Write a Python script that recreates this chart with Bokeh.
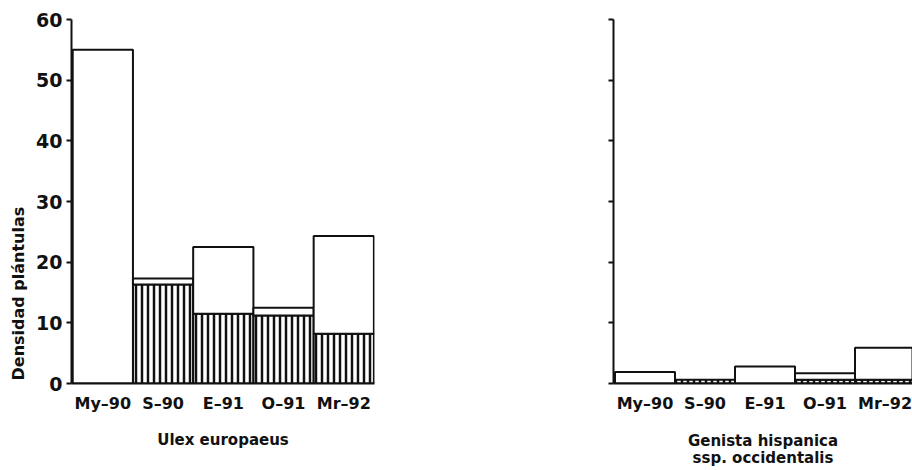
from bokeh.plotting import figure
from bokeh.models import FixedTicker, Range1d, Title
from bokeh.layouts import row
from bokeh.embed import file_html
from bokeh.resources import INLINE

# ---- data ----
months = ["My–90", "S–90", "E–91", "O–91", "Mr–92"]
ulex_total = [55.0, 17.3, 22.5, 12.5, 24.3]
ulex_hatched = [0.0, 16.3, 11.5, 11.2, 8.2]
genista_total = [1.9, 0.6, 2.8, 1.7, 5.9]
genista_hatched = [0.0, 0.6, 0.0, 0.6, 0.6]
y_ticks = [0, 10, 20, 30, 40, 50, 60]
y_label = "Densidad plántulas"
title_left = "Ulex europaeus"
title_right = ["Genista hispanica", "ssp. occidentalis"]

INK = "#111111"
FONT = "DejaVu Sans"


def make_panel(total, hatched, width, border_left, border_right, x_start, x_end,
               show_ylabels, xlabel, label_standoff):
    p = figure(width=width, height=470, output_backend="svg", toolbar_location=None,
               x_range=Range1d(x_start, x_end), y_range=Range1d(0, 60),
               min_border_left=border_left, min_border_right=border_right,
               min_border_top=19, min_border_bottom=87)
    p.outline_line_color = None
    p.xgrid.visible = False
    p.ygrid.visible = False
    p.background_fill_color = "white"

    xs = [i + 0.5 for i in range(len(months))]
    # hatched (lower) part
    hx = [x for x, h in zip(xs, hatched) if h > 0]
    ht = [h for h in hatched if h > 0]
    p.vbar(x=hx, width=1.0, bottom=0, top=ht, fill_color="white",
           line_color=INK, line_width=2, hatch_pattern="vertical_line",
           hatch_color=INK, hatch_weight=2.5, hatch_scale=6)
    # white (upper) part
    wx = [x for x, t, h in zip(xs, total, hatched) if t > h]
    wb = [h for t, h in zip(total, hatched) if t > h]
    wt = [t for t, h in zip(total, hatched) if t > h]
    p.vbar(x=wx, width=1.0, bottom=wb, top=wt, fill_color="white",
           line_color=INK, line_width=2)

    # x axis
    xa = p.xaxis[0]
    xa.ticker = FixedTicker(ticks=xs)
    xa.major_label_overrides = {x: m for x, m in zip(xs, months)}
    xa.major_tick_out = 0
    xa.major_tick_in = 0
    xa.minor_tick_out = 0
    xa.minor_tick_in = 0
    xa.axis_line_width = 2
    xa.axis_line_color = INK
    xa.major_label_text_font = FONT
    xa.major_label_text_font_style = "bold"
    xa.major_label_text_font_size = "16px"
    xa.major_label_text_color = INK
    xa.major_label_standoff = 10
    xa.axis_label = xlabel
    xa.axis_label_standoff = label_standoff
    xa.axis_label_text_font = FONT
    xa.axis_label_text_font_style = "bold"
    xa.axis_label_text_font_size = "15px"
    xa.axis_label_text_color = INK
    xa.axis_label_text_line_height = 0.95

    # y axis
    ya = p.yaxis[0]
    ya.ticker = FixedTicker(ticks=y_ticks)
    ya.major_tick_out = 5
    ya.major_tick_in = 0
    ya.minor_tick_out = 0
    ya.minor_tick_in = 0
    ya.major_tick_line_width = 2
    ya.major_tick_line_color = INK
    ya.axis_line_width = 2
    ya.axis_line_color = INK
    ya.major_label_text_font = FONT
    ya.major_label_text_font_style = "bold"
    ya.major_label_text_font_size = "19px"
    ya.major_label_text_color = INK
    ya.major_label_standoff = 4
    if not show_ylabels:
        ya.major_label_overrides = {t: "" for t in y_ticks}
    return p


left = make_panel(ulex_total, ulex_hatched, 408, 71, 34, -0.02, 5.01, True,
                  title_left, 15)
left.add_layout(Title(text=y_label, align="left", offset=3, standoff=11,
                      text_font=FONT, text_font_style="bold",
                      text_font_size="16px", text_color=INK), "left")

right = make_panel(genista_total, genista_hatched, 504, 205, 0, -0.025, 4.958, False,
                   "\n".join(title_right), 16)

layout = row(left, right)
open("out.html", "w").write(file_html(layout, INLINE))
